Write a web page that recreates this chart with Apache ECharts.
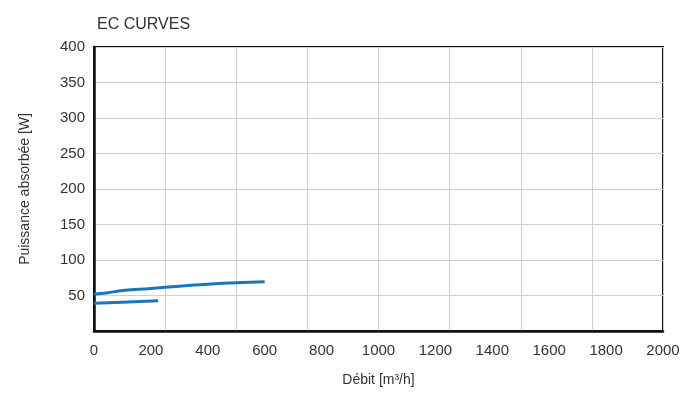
<!DOCTYPE html>
<html>
<head>
<meta charset="utf-8">
<script src="https://cdn.jsdelivr.net/npm/echarts@6/dist/echarts.min.js"></script>
<style>
html,body{margin:0;padding:0;background:#fff;}
#c{width:700px;height:394px;}
</style>
</head>
<body>
<div id="c"></div>
<script>
const titleText = "EC CURVES";
const xName = "Débit [m³/h]";
const yName = "Puissance absorbée [W]";
const xMin = 0, xMax = 2000, xLabelStep = 200, xGridStep = 250;
const yMin = 0, yMax = 400, yStep = 50;
const upperX = [0, 50, 100, 200, 300, 400, 500, 600];
const upperY = [52, 54, 57, 60, 63, 66, 68, 69.5];
const lowerX = [0, 100, 225];
const lowerY = [39, 40.5, 42.5];

const chart = echarts.init(document.getElementById('c'), null, {renderer: 'canvas'});
const font = 'Liberation Sans, Arial, sans-serif';
const lineColor = '#1a76b8';
chart.setOption({
  animation: false,
  backgroundColor: '#fff',
  title: {
    text: titleText, left: 92, top: 12,
    textStyle: {fontFamily: font, fontSize: 16, fontWeight: 'normal', color: '#333'}
  },
  grid: {left: 94, right: 37, top: 47, bottom: 63, show: true, borderColor: '#111', borderWidth: 2, backgroundColor: 'transparent'},
  xAxis: [
    {
      type: 'value', min: xMin, max: xMax, interval: xLabelStep, position: 'bottom',
      name: xName, nameLocation: 'middle', nameGap: 42,
      nameTextStyle: {fontFamily: font, fontSize: 14, color: '#333'},
      axisLine: {show: true, lineStyle: {color: '#111', width: 2.5}},
      axisTick: {show: false},
      splitLine: {show: false},
      axisLabel: {fontFamily: font, fontSize: 15, color: '#333', margin: 12, formatter: v => String(v)}
    },
    {
      type: 'value', min: xMin, max: xMax, interval: xGridStep, position: 'bottom',
      axisLine: {show: false}, axisTick: {show: false}, axisLabel: {show: false},
      splitLine: {show: true, lineStyle: {color: '#cfcfcf', width: 1}}
    }
  ],
  yAxis: {
    type: 'value', min: yMin, max: yMax, interval: yStep,
    name: yName, nameLocation: 'middle', nameGap: 62, nameRotate: 90,
    nameTextStyle: {fontFamily: font, fontSize: 14, color: '#333'},
    axisLine: {show: true, lineStyle: {color: '#111', width: 2.5}},
    axisTick: {show: false},
    splitLine: {show: true, lineStyle: {color: '#cfcfcf', width: 1}},
    axisLabel: {fontFamily: font, fontSize: 15, color: '#333', margin: 9, showMinLabel: false, formatter: v => String(v)}
  },
  series: [
    {
      type: 'line', xAxisIndex: 0, smooth: true, symbol: 'none',
      data: upperX.map((x, i) => [x, upperY[i]]),
      lineStyle: {color: lineColor, width: 3}
    },
    {
      type: 'line', xAxisIndex: 0, smooth: true, symbol: 'none',
      data: lowerX.map((x, i) => [x, lowerY[i]]),
      lineStyle: {color: lineColor, width: 3}
    }
  ]
});
</script>
</body>
</html>
